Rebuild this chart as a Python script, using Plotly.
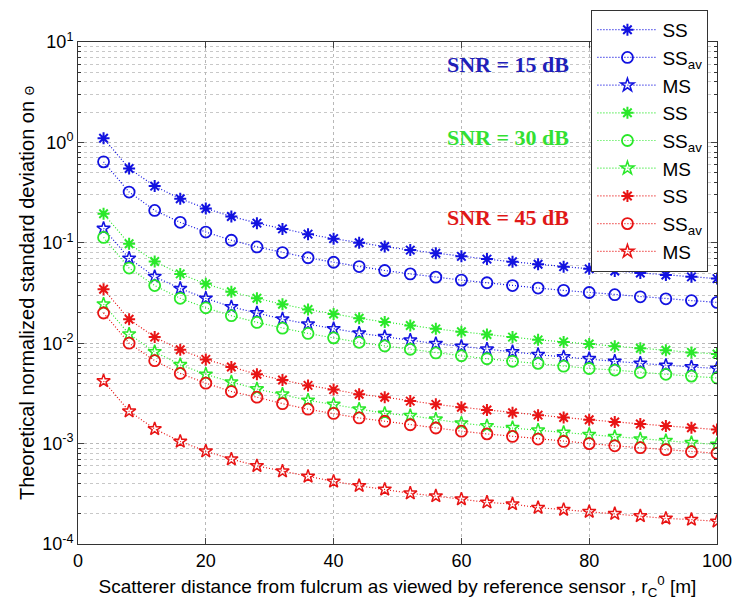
import plotly.graph_objects as go

x_vals = [4, 8, 12, 16, 20, 24, 28, 32, 36, 40, 44, 48, 52, 56, 60, 64, 68, 72, 76, 80, 84, 88, 92, 96, 100]

ss_15 = [1.10, 0.55, 0.367, 0.275, 0.22, 0.183, 0.157, 0.1375, 0.122, 0.11, 0.10, 0.0917, 0.0846, 0.0786, 0.0733,
         0.0688, 0.0647, 0.0611, 0.0579, 0.055, 0.0524, 0.050, 0.0478, 0.0458, 0.044]
ssav_15 = [0.64, 0.32, 0.21, 0.16, 0.128, 0.106, 0.091, 0.080, 0.071, 0.064, 0.058, 0.053, 0.049, 0.0455, 0.0425,
           0.040, 0.0375, 0.0354, 0.0336, 0.032, 0.0304, 0.029, 0.0277, 0.0266, 0.0255]
ms_15 = [0.139, 0.070, 0.046, 0.035, 0.028, 0.023, 0.020, 0.0174, 0.0155, 0.0139, 0.0126, 0.0116, 0.0107, 0.0099,
         0.0093, 0.0087, 0.0082, 0.0077, 0.0073, 0.0070, 0.0066, 0.0063, 0.0060, 0.0058, 0.0056]

ss_30 = [0.195, 0.098, 0.065, 0.049, 0.039, 0.0325, 0.028, 0.0244, 0.0217, 0.0195, 0.0177, 0.0163, 0.015, 0.0139,
         0.013, 0.0122, 0.0115, 0.0108, 0.0103, 0.0098, 0.0093, 0.0089, 0.0085, 0.0081, 0.0078]
ssav_30 = [0.113, 0.056, 0.0375, 0.028, 0.0225, 0.0188, 0.0161, 0.0141, 0.0125, 0.0113, 0.0102, 0.0094, 0.0087,
           0.0080, 0.0075, 0.0070, 0.0066, 0.0063, 0.0059, 0.0056, 0.0054, 0.0051, 0.0049, 0.0047, 0.0045]
ms_30 = [0.0245, 0.0123, 0.0082, 0.0061, 0.0049, 0.0041, 0.0035, 0.0031, 0.0027, 0.00245, 0.0022, 0.0020, 0.0019,
         0.00175, 0.0016, 0.0015, 0.00144, 0.00136, 0.00129, 0.00123, 0.00117, 0.00111, 0.00107, 0.00102, 0.00098]

ss_45 = [0.0345, 0.0173, 0.0115, 0.0086, 0.0069, 0.0058, 0.0049, 0.0043, 0.0038, 0.00345, 0.0031, 0.0029, 0.00265,
         0.00246, 0.0023, 0.00216, 0.00203, 0.00192, 0.00182, 0.00173, 0.00164, 0.00157, 0.0015, 0.00144, 0.00138]
ssav_45 = [0.020, 0.010, 0.0067, 0.005, 0.004, 0.0033, 0.0029, 0.0025, 0.0022, 0.002, 0.0018, 0.00167, 0.00154,
           0.00143, 0.00133, 0.00125, 0.00118, 0.00111, 0.00105, 0.001, 0.00095, 0.00091, 0.00087, 0.00083, 0.0008]
ms_45 = [0.0042, 0.0021, 0.0014, 0.00105, 0.00084, 0.0007, 0.0006, 0.00053, 0.00047, 0.00042, 0.00038, 0.00035,
         0.00032, 0.0003, 0.00028, 0.00026, 0.00025, 0.00023, 0.00022, 0.00021, 0.0002, 0.00019, 0.00018, 0.000175,
         0.000168]

series_names = ["SS", "SS<sub>av</sub>", "MS"]
y_ticks = [1e-4, 1e-3, 1e-2, 1e-1, 1, 10]
y_ticktext = ["10<sup>-4</sup>", "10<sup>-3</sup>", "10<sup>-2</sup>", "10<sup>-1</sup>", "10<sup>0</sup>", "10<sup>1</sup>"]
snr_labels = ["SNR = 15 dB", "SNR = 30 dB", "SNR = 45 dB"]

BLUE = "#1212e0"
GREEN = "#2ae82a"
RED = "#e81414"

groups = [
    (BLUE, [ss_15, ssav_15, ms_15]),
    (GREEN, [ss_30, ssav_30, ms_30]),
    (RED, [ss_45, ssav_45, ms_45]),
]
symbols = ["asterisk-open", "circle-open", "star-open"]
sizes = [10, 11, 10]
widths = [2.0, 1.8, 1.5]

fig = go.Figure()
for color, series in groups:
    for name, vals, sym, sz, lw in zip(series_names, series, symbols, sizes, widths):
        fig.add_trace(go.Scatter(
            x=x_vals, y=vals, name=name, mode="lines+markers",
            line=dict(color=color, width=1.2, dash="1px,2px"),
            marker=dict(symbol=sym, size=sz, color=color,
                        line=dict(color=color, width=lw)),
        ))

minor_vals = [m * 10 ** e for e in range(-4, 1) for m in range(2, 10)]

fig.update_layout(
    width=736, height=612,
    margin=dict(l=78, r=19, t=42, b=68, autoexpand=False),
    paper_bgcolor="white", plot_bgcolor="white",
    font=dict(family="Liberation Sans, Arial, sans-serif", size=16, color="black"),
    showlegend=True,
    legend=dict(
        x=0.8035, y=1.064, xanchor="left", yanchor="top",
        bgcolor="white", bordercolor="#333333", borderwidth=1,
        font=dict(size=19, family="Liberation Sans, Arial, sans-serif"),
        itemwidth=60, tracegroupgap=0,
    ),
    xaxis=dict(
        range=[0, 100], tickvals=[0, 20, 40, 60, 80, 100],
        ticks="inside", ticklen=6, showline=True, linecolor="#333333", linewidth=1,
        mirror="ticks", showgrid=True, gridcolor="#b8b8b8", griddash="dot", gridwidth=1,
        zeroline=False, tickfont=dict(size=18), automargin=False,
        title=dict(text="Scatterer distance from fulcrum as viewed by reference sensor , r<sub>C</sub><sup>0</sup> [m]",
                   font=dict(size=19), standoff=10),
    ),
    yaxis=dict(
        type="log", range=[-4, 1], tickvals=y_ticks, ticktext=y_ticktext,
        ticks="inside", ticklen=6, showline=True, linecolor="#333333", linewidth=1,
        mirror="ticks", showgrid=True, gridcolor="#b8b8b8", griddash="dot", gridwidth=1,
        zeroline=False, tickfont=dict(size=18), automargin=False,
        minor=dict(tickvals=minor_vals, ticks="inside", ticklen=3, showgrid=True,
                   gridcolor="#c8c8c8", griddash="dot", gridwidth=1, tickcolor="#333333"),
        title=dict(text="Theoretical normalized standard deviation on <span style='font-size:12px'>Θ</span>",
                   font=dict(size=20), standoff=2),
    ),
)

snr_colors = ["#2020b8", "#33e033", "#e01818"]
snr_y = [0.956, 0.809, 0.651]
for txt, col, yy in zip(snr_labels, snr_colors, snr_y):
    fig.add_annotation(text="<b>" + txt + "</b>", x=0.673, y=yy, xref="paper", yref="paper",
                       xanchor="center", yanchor="middle", showarrow=False,
                       font=dict(family="Liberation Serif, Times New Roman, serif", size=22, color=col))

fig.write_html("out.html", config={"displayModeBar": False},
               post_script="document.body.style.margin='0';")
